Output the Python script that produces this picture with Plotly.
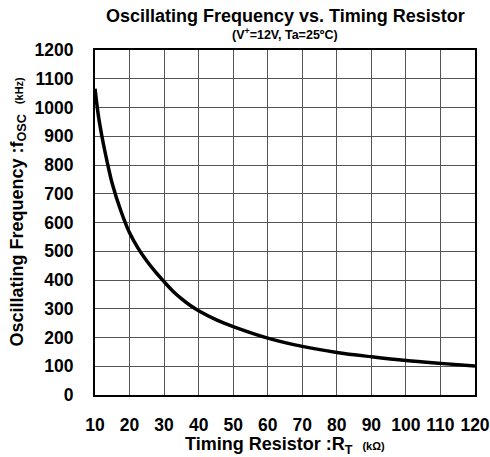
import plotly.graph_objects as go

# Data
resistance_kohm = [10, 11, 12, 13, 14, 15, 17.5, 20, 22.5, 25, 27.5, 30, 32.5, 35, 37.5, 40, 45, 50,
                   60, 70, 80, 90, 100, 110, 120]
frequency_khz = [1065, 970, 900, 840, 785, 735, 640, 564, 510, 466, 428, 394, 362, 335, 312, 293, 262,
                 238, 198, 169, 148, 133, 120, 110, 101]

x_ticks = [10, 20, 30, 40, 50, 60, 70, 80, 90, 100, 110, 120]
y_ticks = [0, 100, 200, 300, 400, 500, 600, 700, 800, 900, 1000, 1100, 1200]

FONT = "Liberation Sans, Arial, sans-serif"

fig = go.Figure()
fig.add_trace(go.Scatter(
    x=resistance_kohm, y=frequency_khz, mode="lines",
    line=dict(color="black", width=3.5, shape="spline", smoothing=1),
    hoverinfo="skip", showlegend=False,
))

fig.update_layout(
    width=490, height=457,
    margin=dict(l=95, r=15, t=50, b=62),
    paper_bgcolor="white", plot_bgcolor="white",
    font=dict(family=FONT, color="black"),
    showlegend=False,
    xaxis=dict(
        range=[10, 120], tickvals=x_ticks, ticktext=[str(v) for v in x_ticks],
        showgrid=True, gridcolor="#555", gridwidth=1,
        showline=True, linecolor="black", linewidth=2, mirror=True,
        zeroline=False, ticks="", ticklabelstandoff=13, automargin=False,
        tickfont=dict(size=17.5, family=FONT, weight="bold"),
    ),
    yaxis=dict(
        range=[0, 1200], tickvals=y_ticks, ticktext=[str(v) for v in y_ticks],
        showgrid=True, gridcolor="#555", gridwidth=1,
        showline=True, linecolor="black", linewidth=2, mirror=True,
        zeroline=False, ticks="", ticklabelstandoff=16, automargin=False,
        tickfont=dict(size=17.5, family=FONT, weight="bold"),
    ),
    annotations=[
        dict(text="<b>Oscillating Frequency vs. Timing Resistor</b>", xref="paper", yref="paper",
             x=0.5, y=1, yshift=34, xanchor="center", yanchor="middle", showarrow=False,
             font=dict(size=18, family=FONT)),
        dict(text="<b>(V<sup>+</sup>=12V, Ta=25ºC)</b>", xref="paper", yref="paper",
             x=0.5, y=1, yshift=16, xanchor="center", yanchor="middle", showarrow=False,
             font=dict(size=12.5, family=FONT)),
        dict(text="<b>Timing Resistor :R<sub>T</sub></b>  <b><span style='font-size:11px'>(kΩ)</span></b>",
             xref="paper", yref="paper", x=0.5, y=0, yshift=-50, xanchor="center", yanchor="middle",
             showarrow=False, font=dict(size=18, family=FONT)),
        dict(text="<b>Oscillating Frequency :f<sub>OSC</sub></b>  <b><span style='font-size:11px'>(kHz)</span></b>",
             xref="paper", yref="paper", x=0, y=0.5, xshift=-77, yshift=11, xanchor="center",
             yanchor="middle", textangle=-90, showarrow=False, font=dict(size=18, family=FONT)),
    ],
)

fig.write_html("out.html", config={"displayModeBar": False},
               post_script="document.body.style.margin='0';document.body.style.overflow='hidden';")
